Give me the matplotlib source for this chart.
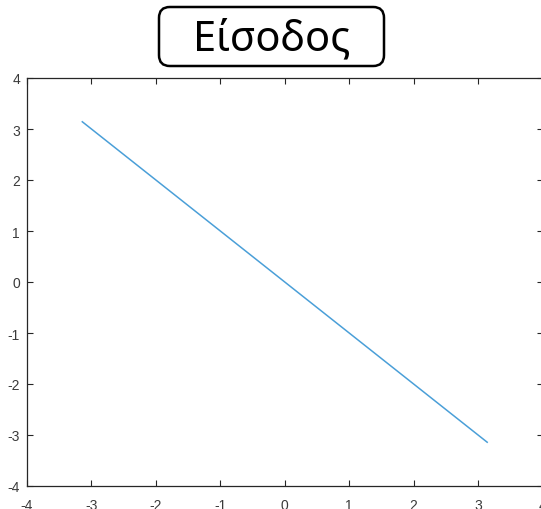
import matplotlib.pyplot as plt
from matplotlib.patches import FancyBboxPatch
import numpy as np

# endpoints of the input signal, y = -x over [-pi, pi]
x_vals = [-np.pi, np.pi]
y_vals = [np.pi, -np.pi]
ticks = [-4, -3, -2, -1, 0, 1, 2, 3, 4]
title = "Είσοδος"

W, H = 541, 510
fig = plt.figure(figsize=(W / 100, H / 100), dpi=100)
ax = fig.add_axes([27 / W, 23 / H, 515.5 / W, 408 / H])

ax.plot(x_vals, y_vals, color="#4a9fd8", linewidth=1.1)

ax.set_xlim(-4, 4)
ax.set_ylim(-4, 4)
ax.set_xticks(ticks)
ax.set_yticks(ticks)
ax.set_xticklabels([str(t) for t in ticks])
ax.set_yticklabels([str(t) for t in ticks])
ax.tick_params(direction="in", top=True, right=True, length=4, width=0.8,
               colors="#262626", labelcolor="#3a3a3a", labelsize=10)
ax.tick_params(axis="x", pad=9)
ax.tick_params(axis="y", pad=5)
for lbl in ax.get_xticklabels() + ax.get_yticklabels():
    lbl.set_fontfamily("Liberation Sans")
for sp in ax.spines.values():
    sp.set_color("#262626")
    sp.set_linewidth(0.9)

# rounded title box, drawn in figure pixel coords
box = FancyBboxPatch((159 / W, 1 - 67 / H), 225 / W, 59 / H,
                     boxstyle="round,pad=0,rounding_size=0.02",
                     transform=fig.transFigure, facecolor="white",
                     edgecolor="black", linewidth=1.8, mutation_aspect=W / H)
fig.patches.append(box)
fig.text(272 / W, 1 - 39 / H, title, ha="center", va="center",
         fontsize=30, family="Noto Sans", color="black")

fig.savefig("out.png", dpi=100)
